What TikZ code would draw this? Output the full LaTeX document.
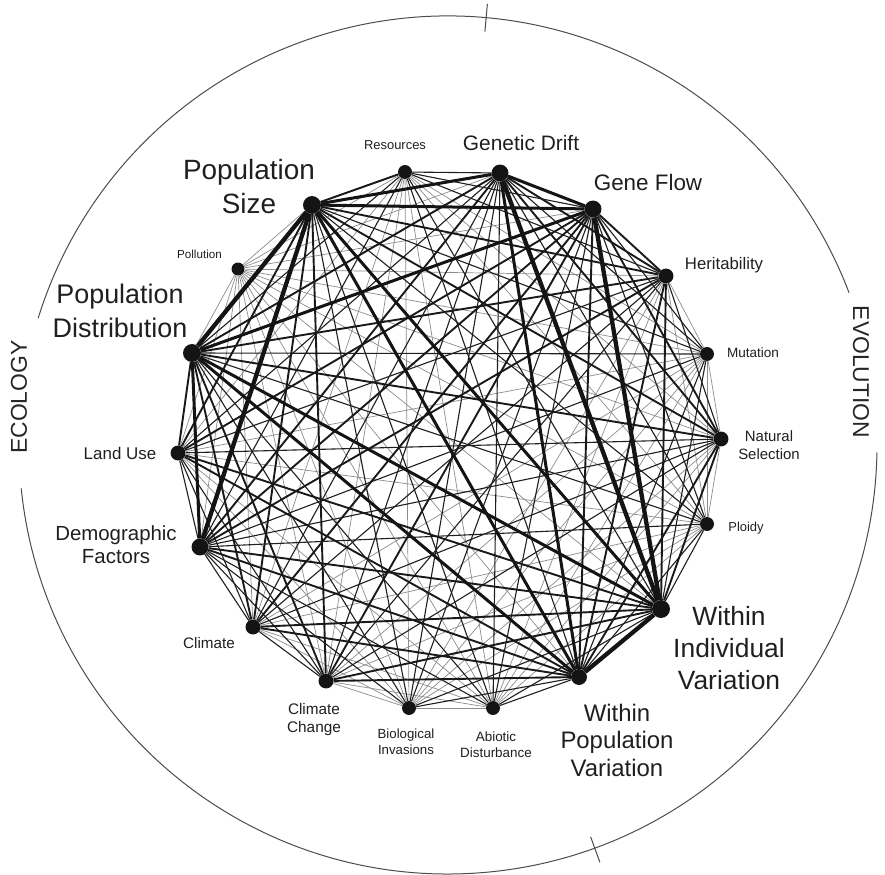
\documentclass[tikz,border=0pt]{standalone}
\usepackage{fontspec}
\setmainfont{Liberation Sans}
\pgfdeclarelayer{bg}
\pgfsetlayers{bg,main}
\tikzset{
  dot/.style={circle,fill=black!92,draw=none,inner sep=0,minimum size=#1},
  lbl/.style 2 args={inner sep=0,anchor=north,align=center,text=black!88,
    font={\fontsize{#1}{#2}\selectfont}},
  side/.style={inner sep=0,anchor=center,text=black!85,font={\fontsize{23}{27}\selectfont}},
  ring/.style={line width=1bp,draw=black!70},
  lnk0/.style={line width=0.7bp,draw=black!45},
  lnk1/.style={line width=1.1bp,draw=black!88},
  lnk2/.style={line width=1.9bp,draw=black!90},
  lnk3/.style={line width=3bp,draw=black!92},
  lnk4/.style={line width=4.3bp,draw=black!92},
}
% topics with a weight; the product of two weights sets the link class
\def\topics{R/0.4,GD/0.85,GF/0.9,H/0.6,M/0.35,NS/0.55,P/0.3,WIV/1.0,WPV/0.95,AD/0.35,BI/0.35,CC/0.5,C/0.5,DF/0.75,LU/0.5,PD/1.0,PO/0.2,PS/1.0}
\begin{document}
\begin{tikzpicture}[x=1bp,y=1bp]
\useasboundingbox (0,0) rectangle (885,-875);

% outer ring with the two gaps for the side captions
\coordinate (c) at (448,-445);
\draw[ring] (c) ++(20.8:429) arc[start angle=20.8,end angle=162.8,radius=429];
\draw[ring] (c) ++(185.8:429) arc[start angle=185.8,end angle=359,radius=429];
\draw[ring] (c) ++(84.9:415) -- ++(84.9:28);
\draw[ring] (c) ++(-70:417) -- ++(-70:27);
\node[side,rotate=90] (eco) at (19,-397) {ECOLOGY};
\node[side,rotate=-90] (evo) at (861,-372) {EVOLUTION};

% topic dots
\node[dot=14] (R)   at (405,-172) {};
\node[dot=17] (GD)  at (500,-173) {};
\node[dot=17] (GF)  at (593,-209) {};
\node[dot=15] (H)   at (666,-276) {};
\node[dot=14] (M)   at (707,-354) {};
\node[dot=15] (NS)  at (721,-439) {};
\node[dot=14] (P)   at (707,-524) {};
\node[dot=18] (WIV) at (661,-609) {};
\node[dot=16] (WPV) at (579,-677) {};
\node[dot=14] (AD)  at (493,-708) {};
\node[dot=14] (BI)  at (409,-708) {};
\node[dot=15] (CC)  at (326,-681) {};
\node[dot=15] (C)   at (253,-627) {};
\node[dot=17] (DF)  at (200,-547) {};
\node[dot=15] (LU)  at (178,-453) {};
\node[dot=18] (PD)  at (192,-353) {};
\node[dot=13] (PO)  at (238,-269) {};
\node[dot=18] (PS)  at (312,-205) {};

% topic labels
\node[lbl={13}{16}]     (lR)   at (395,-140) {Resources};
\node[lbl={21}{25}]     (lGD)  at (521,-135) {Genetic Drift};
\node[lbl={22.5}{26}]   (lGF)  at (648,-174) {Gene Flow};
\node[lbl={16.8}{20}]   (lH)   at (724,-257) {Heritability};
\node[lbl={13.6}{16}]   (lM)   at (753,-347) {Mutation};
\node[lbl={15}{19}]     (lNS)  at (769,-430) {Natural\\Selection};
\node[lbl={13}{16}]     (lP)   at (746,-522) {Ploidy};
\node[lbl={26.5}{32}]   (lWIV) at (729,-606) {Within\\Individual\\Variation};
\node[lbl={24}{27.5}]   (lWPV) at (617,-704) {Within\\Population\\Variation};
\node[lbl={13.5}{16}]   (lAD)  at (496,-732) {Abiotic\\Disturbance};
\node[lbl={13.3}{16}]   (lBI)  at (406,-729) {Biological\\Invasions};
\node[lbl={15.4}{18.5}] (lCC)  at (314,-703) {Climate\\Change};
\node[lbl={15.3}{18}]   (lC)   at (209,-637) {Climate};
\node[lbl={20.5}{24}]   (lDF)  at (116,-525) {Demographic\\Factors};
\node[lbl={17}{20}]     (lLU)  at (120,-447) {Land Use};
\node[lbl={27}{33.5}]   (lPD)  at (120,-284) {Population\\Distribution};
\node[lbl={11.7}{14}]   (lPO)  at (199.5,-250) {Pollution};
\node[lbl={28}{34}]     (lPS)  at (249,-159) {Population\\Size};

% links between every pair of topics, lighter classes first
\begin{pgfonlayer}{bg}
\foreach \lvl in {0,1,2}{
  \foreach \a/\wa [count=\i] in \topics {
    \foreach \b/\wb [count=\j] in \topics {
      \ifnum\j>\i
        \pgfmathsetmacro\pw{\wa*\wb}
        \pgfmathtruncatemacro\lv{(\pw>=0.22)+(\pw>=0.45)}
        \ifnum\lv=\lvl
          \ifcase\lv
            \draw[lnk0] (\a) -- (\b);
          \or
            \draw[lnk1] (\a) -- (\b);
          \or
            \draw[lnk2] (\a) -- (\b);
          \fi
        \fi
      \fi
    }
  }
}
\draw[lnk2] (R) -- (PS);
\foreach \a/\b in {PS/GF,PS/GD,GD/GF,PS/WPV,PS/WIV,PD/GF,PD/WIV,PD/WPV,GD/WPV,PD/DF}
  \draw[lnk3] (\a) -- (\b);
\foreach \a/\b in {PS/PD,PS/DF,GF/WIV,GD/WIV,WIV/WPV}
  \draw[lnk4] (\a) -- (\b);
\end{pgfonlayer}
\end{tikzpicture}
\end{document}
